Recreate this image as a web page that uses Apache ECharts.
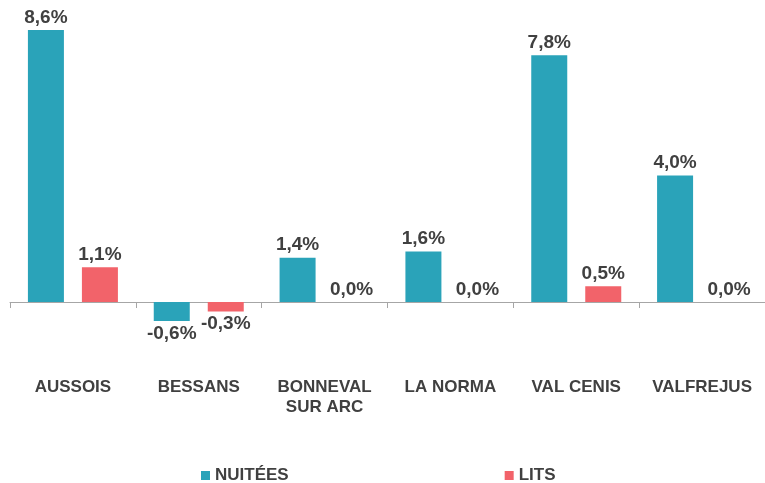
<!DOCTYPE html>
<html>
<head>
<meta charset="utf-8">
<script src="https://cdn.jsdelivr.net/npm/echarts@6/dist/echarts.min.js"></script>
<style>
  html, body { margin: 0; padding: 0; background: #fff; }
  #main { width: 765px; height: 483px; }
</style>
</head>
<body>
<div id="main"></div>
<script>
const categories = ['AUSSOIS', 'BESSANS', 'BONNEVAL\nSUR ARC', 'LA NORMA', 'VAL CENIS', 'VALFREJUS'];
const nuitees = [8.6, -0.6, 1.4, 1.6, 7.8, 4.0];
const lits = [1.1, -0.3, 0.0, 0.0, 0.5, 0.0];

const labelColor = '#404040';

function fmt(v) {
  return v.toFixed(1).replace('.', ',') + '%';
}

// valeurs négatives : étiquette sous la barre
function toData(arr) {
  return arr.map(v => ({
    value: v,
    label: { position: v < 0 ? 'bottom' : 'top' }
  }));
}

const chart = echarts.init(document.getElementById('main'));

const valueLabel = {
  show: true,
  fontSize: 19,
  fontWeight: 'bold',
  color: labelColor,
  distance: 3,
  formatter: p => fmt(p.value)
};

const option = {
  animation: false,
  textStyle: { fontFamily: 'Liberation Sans, Arial, sans-serif' },
  grid: { left: 10, right: 0, top: 30, bottom: 162 },
  legend: {
    top: 462,
    left: 196,
    itemGap: 216,
    itemWidth: 9,
    itemHeight: 9,
    icon: 'rect',
    textStyle: { fontSize: 17, fontWeight: 'bold', color: labelColor },
    data: ['NUITÉES', 'LITS']
  },
  xAxis: {
    type: 'category',
    data: categories,
    axisLine: { onZero: true, lineStyle: { color: '#a6a6a6' } },
    axisTick: { show: true, length: 6, lineStyle: { color: '#a6a6a6' } },
    axisLabel: {
      margin: 56,
      interval: 0,
      fontSize: 17,
      fontWeight: 'bold',
      color: labelColor,
      lineHeight: 20
    }
  },
  yAxis: {
    type: 'value',
    min: -0.6,
    max: 8.6,
    show: false,
    splitLine: { show: false }
  },
  series: [
    {
      name: 'NUITÉES',
      type: 'bar',
      data: toData(nuitees),
      barWidth: 36,
      barGap: '50%',
      itemStyle: { color: '#2aa3b9' },
      label: valueLabel
    },
    {
      name: 'LITS',
      type: 'bar',
      data: toData(lits),
      barWidth: 36,
      itemStyle: { color: '#f2636a' },
      label: valueLabel
    }
  ]
};

chart.setOption(option);
</script>
</body>
</html>
